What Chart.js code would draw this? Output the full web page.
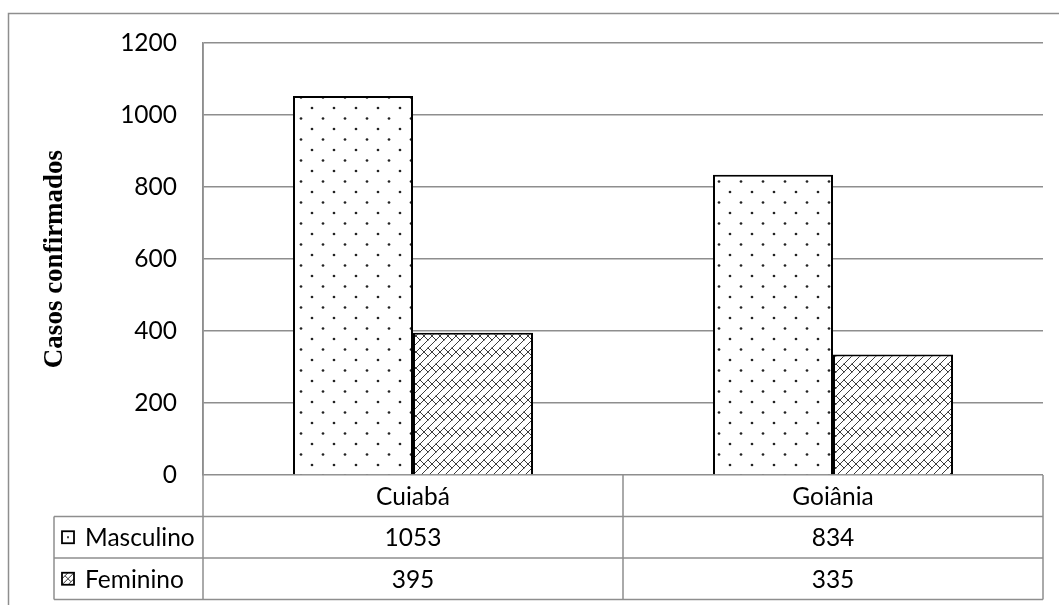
<!DOCTYPE html>
<html>
<head>
<meta charset="utf-8">
<script src="https://cdn.jsdelivr.net/npm/chart.js@4.4.0/dist/chart.umd.min.js"></script>
<style>
  html, body { margin: 0; padding: 0; background: #ffffff; }
  #wrap { position: relative; width: 1059px; height: 605px; }
</style>
</head>
<body>
<div id="wrap"><canvas id="chart" width="1059" height="605"></canvas></div>
<script>
// Confirmed cases by city and sex
const categories = ['Cuiabá', 'Goiânia'];
const seriesNames = ['Masculino', 'Feminino'];
const masculino = [1053, 834];
const feminino = [395, 335];
const yTickValues = [0, 200, 400, 600, 800, 1000, 1200];
const yTitle = 'Casos confirmados';

const GRID = '#8e8e8e';
const LABEL_FONT = 'Lato, "Open Sans", sans-serif';
const LABEL_SIZE = 24.5;

// Sparse staggered dot fill
function dotPattern() {
  const c = document.createElement('canvas');
  c.width = 22; c.height = 21;
  const g = c.getContext('2d');
  g.fillStyle = '#ffffff';
  g.fillRect(0, 0, c.width, c.height);
  g.fillStyle = '#222222';
  [[4, 3], [15, 13.5]].forEach(([px, py]) => {
    g.beginPath(); g.arc(px, py, 1.35, 0, Math.PI * 2); g.fill();
  });
  return g.createPattern(c, 'repeat');
}

// Diagonal brick fill
function brickPattern() {
  const p = 16;
  const c = document.createElement('canvas');
  c.width = p; c.height = p;
  const g = c.getContext('2d');
  g.fillStyle = '#ffffff';
  g.fillRect(0, 0, p, p);
  g.strokeStyle = '#3c3c3c';
  g.lineWidth = 1;
  g.lineCap = 'square';
  // rising courses
  [[0, 8, 8, 0], [0, 16, 16, 0], [8, 16, 16, 8]].forEach(([x1, y1, x2, y2]) => {
    g.beginPath(); g.moveTo(x1, y1); g.lineTo(x2, y2); g.stroke();
  });
  // staggered brick joints
  [[0, 0, 4, 4], [8, 0, 12, 4], [12, 12, 16, 16], [4, 12, 8, 16]].forEach(([x1, y1, x2, y2]) => {
    g.beginPath(); g.moveTo(x1, y1); g.lineTo(x2, y2); g.stroke();
  });
  return g.createPattern(c, 'repeat');
}

const ctxMain = document.getElementById('chart').getContext('2d');
const fills = [dotPattern(), brickPattern()];

// Frame, data table under the axis and its legend keys
const dataTable = {
  id: 'dataTable',
  afterDraw(chart) {
    const ctx = chart.ctx;
    const area = chart.chartArea;
    const xs = chart.scales.x;
    const rowH = 41.5;
    const top = area.bottom;
    const legendLeft = 54;
    const step = xs.getPixelForValue(1) - xs.getPixelForValue(0);
    const edges = [area.left];
    categories.forEach((_, i) => edges.push(xs.getPixelForValue(i) + step / 2));
    edges[edges.length - 1] = area.right;
    const bottom = top + rowH * 3;

    ctx.save();
    ctx.strokeStyle = GRID;
    ctx.lineWidth = 1.5;
    ctx.beginPath();
    // outer frame (left and top edges)
    ctx.moveTo(8.5, 605); ctx.lineTo(8.5, 13.5); ctx.lineTo(1059, 13.5);
    // horizontal rules
    for (let r = 1; r <= 3; r++) {
      const y = top + rowH * r;
      ctx.moveTo(legendLeft, y); ctx.lineTo(area.right, y);
    }
    // vertical rules
    ctx.moveTo(legendLeft, top + rowH); ctx.lineTo(legendLeft, bottom);
    edges.forEach(x => { ctx.moveTo(x, top); ctx.lineTo(x, bottom); });
    ctx.moveTo(area.left, area.top); ctx.lineTo(area.left, top);
    ctx.stroke();

    ctx.fillStyle = '#000000';
    ctx.font = LABEL_SIZE + 'px ' + LABEL_FONT;
    ctx.textBaseline = 'middle';
    ctx.textAlign = 'center';
    categories.forEach((cat, i) => {
      const cx = xs.getPixelForValue(i);
      ctx.fillText(cat, cx, top + rowH * 0.5 + 1);
      ctx.fillText(String(masculino[i]), cx, top + rowH * 1.5 + 1);
      ctx.fillText(String(feminino[i]), cx, top + rowH * 2.5 + 1);
    });

    ctx.textAlign = 'left';
    seriesNames.forEach((name, s) => {
      const cy = top + rowH * (s + 1.5);
      const k = 12;
      const kx = 62, ky = cy - k / 2;
      ctx.fillStyle = '#ffffff';
      ctx.fillRect(kx, ky, k, k);
      if (s === 0) {
        ctx.fillStyle = '#444444';
        ctx.fillRect(kx + k / 2 - 1, ky + k / 2 - 1, 2, 2);
      } else {
        ctx.strokeStyle = '#333333';
        ctx.lineWidth = 1;
        ctx.beginPath();
        ctx.moveTo(kx, ky + k); ctx.lineTo(kx + k, ky);
        ctx.moveTo(kx, ky + k / 2); ctx.lineTo(kx + k / 2, ky);
        ctx.moveTo(kx + k / 2, ky + k); ctx.lineTo(kx + k, ky + k / 2);
        ctx.moveTo(kx + k / 4, ky + k / 4); ctx.lineTo(kx + k / 2, ky + k / 2);
        ctx.moveTo(kx + k / 2, ky + k / 2); ctx.lineTo(kx + k * 0.75, ky + k * 0.75);
        ctx.stroke();
      }
      ctx.strokeStyle = '#000000';
      ctx.lineWidth = 1.8;
      ctx.strokeRect(kx, ky, k, k);
      ctx.fillStyle = '#000000';
      ctx.fillText(name, 85, cy + 1);
    });
    ctx.restore();
  }
};

new Chart(ctxMain, {
  type: 'bar',
  data: {
    labels: categories,
    datasets: [
      { label: seriesNames[0], data: masculino, backgroundColor: fills[0] },
      { label: seriesNames[1], data: feminino, backgroundColor: fills[1] }
    ]
  },
  options: {
    responsive: false,
    devicePixelRatio: 1,
    animation: false,
    layout: { padding: { top: 43, right: 16, bottom: 130, left: 0 } },
    datasets: {
      bar: {
        categoryPercentage: 240 / 420,
        barPercentage: 1,
        borderColor: '#000000',
        borderWidth: 2,
        borderSkipped: 'start'
      }
    },
    plugins: {
      legend: { display: false },
      tooltip: { enabled: false }
    },
    scales: {
      x: { display: false },
      y: {
        min: 0,
        max: 1200,
        afterBuildTicks(scale) { scale.ticks = yTickValues.map(v => ({ value: v })); },
        afterFit(scale) { scale.width = 203; },
        grid: { color: GRID, lineWidth: 1.5, drawTicks: false },
        border: { display: true, color: GRID, width: 1.5 },
        ticks: {
          padding: 26,
          color: '#000000',
          font: { family: LABEL_FONT, size: LABEL_SIZE },
          callback: v => String(v)
        },
        title: {
          display: true,
          text: yTitle,
          color: '#000000',
          font: { family: '"Liberation Serif", "Times New Roman", serif', size: 27, weight: 'bold' },
          padding: { top: 39, bottom: 0 }
        }
      }
    }
  },
  plugins: [dataTable]
});
</script>
</body>
</html>
